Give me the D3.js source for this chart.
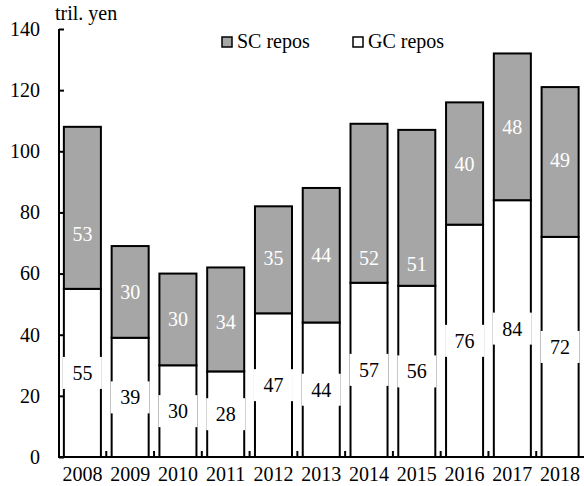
<!DOCTYPE html>
<html>
<head>
<meta charset="utf-8">
<script src="https://cdn.jsdelivr.net/npm/d3@7"></script>
</head>
<body style="margin:0;padding:0;background:#fff;">
<svg id="chart" width="584" height="486" style="display:block;"></svg>
<script>
const years = ["2008","2009","2010","2011","2012","2013","2014","2015","2016","2017","2018"];
const gcRepos = [55, 39, 30, 28, 47, 44, 57, 56, 76, 84, 72];
const scRepos = [53, 30, 30, 34, 35, 44, 52, 51, 40, 48, 49];
// vertical anchor (in data units) of the SC value labels, as placed in the original
const scLabelAt = [73, 54, 45, 44, 65, 66, 65, 63, 96, 108, 97];
const yTicks = [0, 20, 40, 60, 80, 100, 120, 140];
const seriesNames = ["SC repos", "GC repos"];
const unitLabel = "tril. yen";

const FONT = "Liberation Serif";
const svg = d3.select("#chart");
const fontSize = 20;
const colors = { sc: "#a6a6a6", gc: "#ffffff" };

const x = d3.scaleBand().domain(years).range([58.5, 584]).paddingInner(0.225).paddingOuter(0.1125);
const y = d3.scaleLinear().domain([0, 140]).range([457, 29]);

const data = years.map((yr, i) => ({ yr, gc: gcRepos[i], sc: scRepos[i], scAt: scLabelAt[i] }));

function styleText(sel) {
  return sel.style("font-family", FONT).style("font-size", fontSize + "px");
}

// bars
const g = svg.append("g");
g.selectAll("rect.gc").data(data).join("rect")
  .attr("class", "gc")
  .attr("x", d => x(d.yr)).attr("width", x.bandwidth())
  .attr("y", d => y(d.gc)).attr("height", d => y(0) - y(d.gc))
  .attr("fill", colors.gc).attr("stroke", "#000").attr("stroke-width", 2);
g.selectAll("rect.sc").data(data).join("rect")
  .attr("class", "sc")
  .attr("x", d => x(d.yr)).attr("width", x.bandwidth())
  .attr("y", d => y(d.gc + d.sc)).attr("height", d => y(d.gc) - y(d.gc + d.sc))
  .attr("fill", colors.sc).attr("stroke", "#000").attr("stroke-width", 2);

// y axis
const yAxis = d3.axisRight(y).tickValues(yTicks).tickSize(5).tickFormat(d3.format("d"));
const ya = svg.append("g").attr("transform", "translate(59,0)").call(yAxis);
ya.attr("font-family", FONT).attr("font-size", fontSize);
ya.select(".domain").attr("stroke-width", 2).attr("d", `M0,${y(140)}V${y(0)}`);
ya.selectAll(".tick line").attr("stroke-width", 2);
ya.selectAll(".tick text")
  .attr("x", -19).attr("text-anchor", "end").attr("fill", "#000")
  .call(styleText);

// x axis
const boundaries = years.slice(1).map(yr => x(yr) - x.step() * x.paddingInner() / 2);
svg.append("line").attr("x1", 58).attr("x2", 584).attr("y1", y(0)).attr("y2", y(0))
  .attr("stroke", "#000").attr("stroke-width", 2);
svg.append("g").selectAll("line").data(boundaries).join("line")
  .attr("x1", d => d).attr("x2", d => d).attr("y1", y(0)).attr("y2", y(0) - 6)
  .attr("stroke", "#000").attr("stroke-width", 2);
svg.append("g").selectAll("text").data(years).join("text")
  .attr("x", d => x(d) + x.bandwidth() / 2).attr("y", 481)
  .attr("text-anchor", "middle").call(styleText).text(d => d);

// GC labels with white boxes
const gcLab = svg.append("g");
gcLab.selectAll("rect").data(data).join("rect")
  .attr("x", d => x(d.yr) + x.bandwidth() / 2 - 19.5).attr("width", 39)
  .attr("y", d => y(d.gc / 2) - 16).attr("height", 32)
  .attr("fill", "#fff");
gcLab.selectAll("text").data(data).join("text")
  .attr("x", d => x(d.yr) + x.bandwidth() / 2).attr("y", d => y(d.gc / 2))
  .attr("dy", "0.35em").attr("text-anchor", "middle").call(styleText)
  .attr("fill", "#000").text(d => d.gc);

// SC labels
svg.append("g").selectAll("text").data(data).join("text")
  .attr("x", d => x(d.yr) + x.bandwidth() / 2).attr("y", d => y(d.scAt))
  .attr("dy", "0.35em").attr("text-anchor", "middle").call(styleText)
  .attr("fill", "#fff").text(d => d.sc);

// unit label
svg.append("text").attr("x", 55).attr("y", 20).call(styleText).text(unitLabel);

// legend
const legend = [
  { name: seriesNames[0], fill: colors.sc, x: 222 },
  { name: seriesNames[1], fill: colors.gc, x: 353 }
];
const lg = svg.append("g").selectAll("g").data(legend).join("g")
  .attr("transform", d => `translate(${d.x},37)`);
lg.append("rect").attr("width", 10).attr("height", 10)
  .attr("fill", d => d.fill).attr("stroke", "#000").attr("stroke-width", 1.5);
lg.append("text").attr("x", 15).attr("y", 11).call(styleText).text(d => d.name);
</script>
</body>
</html>
